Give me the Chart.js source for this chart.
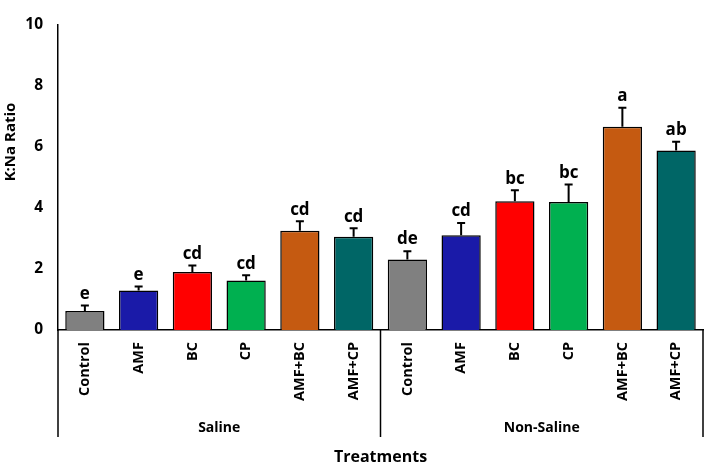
<!DOCTYPE html>
<html>
<head>
<meta charset="utf-8">
<script src="https://cdn.jsdelivr.net/npm/chart.js@4.4.1/dist/chart.umd.min.js"></script>
<style>
  html, body { margin: 0; padding: 0; background: #fff; }
  #wrap { width: 708px; height: 462px; position: relative; }
</style>
</head>
<body>
<div id="wrap"><canvas id="c"></canvas></div>
<script>
const treatments = ['Control', 'AMF', 'BC', 'CP', 'AMF+BC', 'AMF+CP',
                    'Control', 'AMF', 'BC', 'CP', 'AMF+BC', 'AMF+CP'];
const groups = ['Saline', 'Non-Saline'];
const ratio = [0.62, 1.29, 1.90, 1.62, 3.25, 3.05, 2.31, 3.10, 4.21, 4.19, 6.65, 5.87];
const errs = [0.18, 0.13, 0.21, 0.17, 0.31, 0.28, 0.27, 0.40, 0.36, 0.57, 0.62, 0.29];
const letters = ['e', 'e', 'cd', 'cd', 'cd', 'cd', 'de', 'cd', 'bc', 'bc', 'a', 'ab'];
const colors = ['#808080', '#1a1aa8', '#ff0000', '#00b050', '#c55a11', '#006666'];

const FONT = "'Open Sans', 'Noto Sans', sans-serif";

// error bars + letters over each bar, group bracket under the axis, y title
const extras = {
    id: 'extras',
    afterDatasetsDraw(chart) {
        const ctx = chart.ctx;
        const meta = chart.getDatasetMeta(0);
        const y = chart.scales.y;
        ctx.save();
        ctx.strokeStyle = '#000';
        ctx.lineWidth = 2;
        ctx.fillStyle = '#000';
        ctx.font = 'bold 17px ' + FONT;
        ctx.textAlign = 'center';
        ctx.textBaseline = 'bottom';
        meta.data.forEach((bar, i) => {
            const top = y.getPixelForValue(ratio[i] + errs[i]);
            ctx.beginPath();
            ctx.moveTo(bar.x, bar.y);
            ctx.lineTo(bar.x, top);
            ctx.moveTo(bar.x - 4, top);
            ctx.lineTo(bar.x + 4, top);
            ctx.stroke();
            ctx.fillText(letters[i], bar.x, top - 3);
        });
        ctx.restore();
    },
    afterDraw(chart) {
        const ctx = chart.ctx;
        const area = chart.chartArea;
        const x = chart.scales.x;
        const n = treatments.length / groups.length;
        ctx.save();
        ctx.strokeStyle = '#000';
        ctx.lineWidth = 1.5;
        ctx.fillStyle = '#000';
        ctx.font = 'bold 14px ' + FONT;
        ctx.textAlign = 'center';
        ctx.textBaseline = 'middle';
        const edges = [];
        for (let g = 0; g <= groups.length; g++) {
            const idx = g * n;
            let px;
            if (idx === 0) px = area.left;
            else if (idx >= treatments.length) px = area.right;
            else px = (x.getPixelForValue(idx - 1) + x.getPixelForValue(idx)) / 2;
            edges.push(px);
        }
        edges.forEach(px => {
            ctx.beginPath();
            ctx.moveTo(px, area.bottom);
            ctx.lineTo(px, area.bottom + 107);
            ctx.stroke();
        });
        groups.forEach((g, i) => {
            ctx.fillText(g, (edges[i] + edges[i + 1]) / 2, area.bottom + 98);
        });
        // y axis title, sits a bit above the middle of the axis
        ctx.font = 'bold 15px ' + FONT;
        ctx.translate(11, 142);
        ctx.rotate(-Math.PI / 2);
        ctx.fillText('K:Na Ratio', 0, 0);
        ctx.restore();
    }
};

new Chart(document.getElementById('c'), {
    type: 'bar',
    data: {
        labels: treatments,
        datasets: [{
            data: ratio,
            backgroundColor: treatments.map((t, i) => colors[i % colors.length]),
            borderColor: '#000',
            borderWidth: 1.5,
            categoryPercentage: 1,
            barPercentage: 0.73
        }]
    },
    options: {
        responsive: true,
        maintainAspectRatio: false,
        animation: false,
        layout: { padding: { top: 9, right: 5, left: 0, bottom: 0 } },
        plugins: { legend: { display: false }, tooltip: { enabled: false } },
        scales: {
            y: {
                min: 0, max: 10,
                ticks: { stepSize: 2, padding: 15, color: '#000', font: { family: FONT, size: 15.5, weight: 'bold' } },
                grid: { display: false, drawTicks: false },
                border: { display: true, color: '#000', width: 1.5 },
                afterFit(s) { s.width = 58; }
            },
            x: {
                ticks: { minRotation: 90, maxRotation: 90, padding: 12, autoSkip: false, color: '#000',
                         font: { family: FONT, size: 14.5, weight: 'bold' } },
                grid: { display: false, drawTicks: false },
                border: { display: true, color: '#000', width: 1.5 },
                title: { display: true, text: 'Treatments', color: '#000', padding: { top: 0, bottom: -5 },
                         font: { family: FONT, size: 16, weight: 'bold' } },
                afterFit(s) { s.height = 132; }
            }
        }
    },
    plugins: [extras]
});
</script>
</body>
</html>
